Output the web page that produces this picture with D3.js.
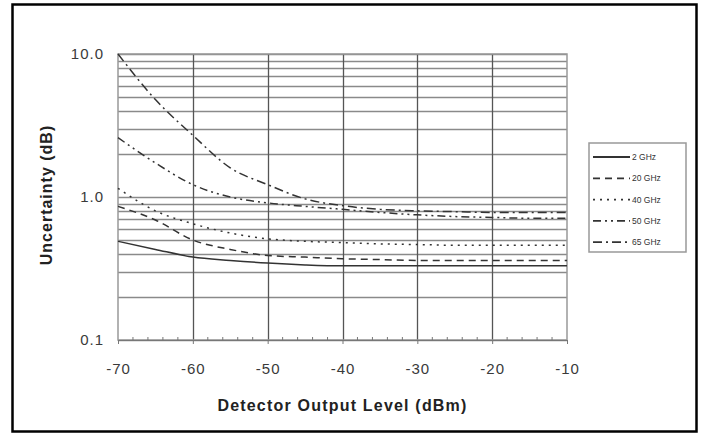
<!DOCTYPE html>
<html>
<head>
<meta charset="utf-8">
<script src="https://cdn.jsdelivr.net/npm/d3@7"></script>
<style>
  body { margin: 0; background: #fff; }
  svg text { font-family: "Liberation Sans", Arial, sans-serif; }
</style>
</head>
<body>
<svg id="chart" width="701" height="434"></svg>
<script>
// detector output level (dBm)
const levels = [-70, -65, -60, -55, -50, -45, -40, -35, -30, -25, -20, -15, -10];

// uncertainty (dB) per frequency
const ghz2  = [0.49, 0.43, 0.38, 0.36, 0.345, 0.335, 0.33, 0.33, 0.33, 0.33, 0.33, 0.33, 0.33];
const ghz20 = [0.86, 0.69, 0.50, 0.43, 0.39, 0.38, 0.37, 0.365, 0.36, 0.36, 0.36, 0.36, 0.36];
const ghz40 = [1.15, 0.80, 0.65, 0.56, 0.51, 0.49, 0.48, 0.47, 0.465, 0.46, 0.46, 0.46, 0.46];
const ghz50 = [2.6, 1.73, 1.22, 1.0, 0.91, 0.86, 0.82, 0.78, 0.75, 0.73, 0.72, 0.71, 0.71];
const ghz65 = [10.0, 4.8, 2.7, 1.6, 1.22, 0.97, 0.87, 0.82, 0.80, 0.79, 0.78, 0.78, 0.78];

const seriesNames = ["2 GHz", "20 GHz", "40 GHz", "50 GHz", "65 GHz"];
const xTicks = [-70, -60, -50, -40, -30, -20, -10];
const yTicks = [0.1, 1, 10];

const series = [
  { name: seriesNames[0], values: ghz2,  dash: null },
  { name: seriesNames[1], values: ghz20, dash: "7,5" },
  { name: seriesNames[2], values: ghz40, dash: "2,5" },
  { name: seriesNames[3], values: ghz50, dash: "8,4,2,4,2,4" },
  { name: seriesNames[4], values: ghz65, dash: "9,4,2,4" }
];

const width = 701, height = 434;
const margin = { top: 54, right: 134, bottom: 94, left: 118 };

const svg = d3.select("#chart");

// outer frame
svg.append("rect")
  .attr("x", 12.5).attr("y", 4.5)
  .attr("width", 684).attr("height", 427)
  .attr("fill", "none").attr("stroke", "#000").attr("stroke-width", 2.5);

const x = d3.scaleLinear()
  .domain([-70, -10])
  .range([margin.left, width - margin.right]);

const y = d3.scaleLog()
  .domain([0.1, 10])
  .range([height - margin.bottom, margin.top]);

// horizontal grid (minor + decades)
const hGrid = [];
for (let d = 0.1; d < 10; d *= 10) {
  for (let k = 1; k < 10; k++) hGrid.push(+(d * k).toFixed(3));
}
hGrid.push(10);

svg.append("g")
  .selectAll("line")
  .data(hGrid)
  .join("line")
  .attr("x1", x(-70)).attr("x2", x(-10))
  .attr("y1", d => Math.round(y(d)) + 0.5)
  .attr("y2", d => Math.round(y(d)) + 0.5)
  .attr("stroke", "#8a8a8a")
  .attr("stroke-width", 1.3);

// vertical grid
svg.append("g")
  .selectAll("line")
  .data(xTicks.slice(1, -1))
  .join("line")
  .attr("x1", d => Math.round(x(d)) + 0.5).attr("x2", d => Math.round(x(d)) + 0.5)
  .attr("y1", y(10)).attr("y2", y(0.1))
  .attr("stroke", "#555")
  .attr("stroke-width", 1.3);

// plot border
svg.append("rect")
  .attr("x", x(-70)).attr("y", y(10))
  .attr("width", x(-10) - x(-70)).attr("height", y(0.1) - y(10))
  .attr("fill", "none").attr("stroke", "#999").attr("stroke-width", 1.5);

// x axis with minor ticks
const xAxis = g => g
  .attr("transform", `translate(0,${y(0.1)})`)
  .call(d3.axisBottom(x).tickValues(xTicks).tickSize(4).tickPadding(19).tickFormat(d => String(d)))
  .call(g => g.select(".domain").attr("stroke", "#777"))
  .call(g => g.selectAll(".tick line").attr("stroke", "#777"))
  .call(g => g.selectAll(".tick text")
    .attr("font-size", 15).attr("letter-spacing", 1).attr("fill", "#3a3a3a"));

svg.append("g").call(xAxis);

svg.append("g")
  .selectAll("line")
  .data(d3.range(-70, -9, 2).filter(v => v % 10 !== 0))
  .join("line")
  .attr("x1", d => x(d)).attr("x2", d => x(d))
  .attr("y1", y(0.1)).attr("y2", y(0.1) - 3)
  .attr("stroke", "#777");

// y axis labels
const yAxis = g => g
  .attr("transform", `translate(${margin.left},0)`)
  .call(d3.axisLeft(y).tickValues(yTicks).tickSize(0).tickPadding(14).tickFormat(d3.format(".1f")))
  .call(g => g.select(".domain").remove())
  .call(g => g.selectAll(".tick text")
    .attr("font-size", 15).attr("letter-spacing", 1).attr("fill", "#3a3a3a"));

svg.append("g").call(yAxis);

// axis titles
svg.append("text")
  .attr("x", x(-40)).attr("y", 411)
  .attr("text-anchor", "middle")
  .attr("font-size", 16).attr("font-weight", "bold").attr("letter-spacing", 1.2).attr("fill", "#222")
  .text("Detector Output Level (dBm)");

svg.append("text")
  .attr("transform", `translate(52,${y(1) - 2}) rotate(-90)`)
  .attr("text-anchor", "middle")
  .attr("font-size", 16).attr("font-weight", "bold").attr("letter-spacing", 1).attr("fill", "#222")
  .text("Uncertainty (dB)");

// curves
const line = d3.line()
  .x((d, i) => x(levels[i]))
  .y(d => y(d))
  .curve(d3.curveMonotoneX);

svg.append("g")
  .selectAll("path")
  .data(series)
  .join("path")
  .attr("d", d => line(d.values))
  .attr("fill", "none")
  .attr("stroke", "#333")
  .attr("stroke-width", 1.5)
  .attr("stroke-dasharray", d => d.dash);

// legend
const legend = svg.append("g").attr("transform", "translate(589,143)");

legend.append("rect")
  .attr("width", 97).attr("height", 109)
  .attr("fill", "#fff").attr("stroke", "#999").attr("stroke-width", 1.5);

const item = legend.selectAll("g")
  .data(series)
  .join("g")
  .attr("transform", (d, i) => `translate(0,${14 + i * 21.3})`);

item.append("line")
  .attr("x1", 4).attr("x2", 41)
  .attr("stroke", "#333").attr("stroke-width", 1.8)
  .attr("stroke-dasharray", d => d.dash);

item.append("text")
  .attr("x", 43).attr("y", 3)
  .attr("font-size", 8.5).attr("fill", "#333")
  .text(d => d.name);
</script>
</body>
</html>
